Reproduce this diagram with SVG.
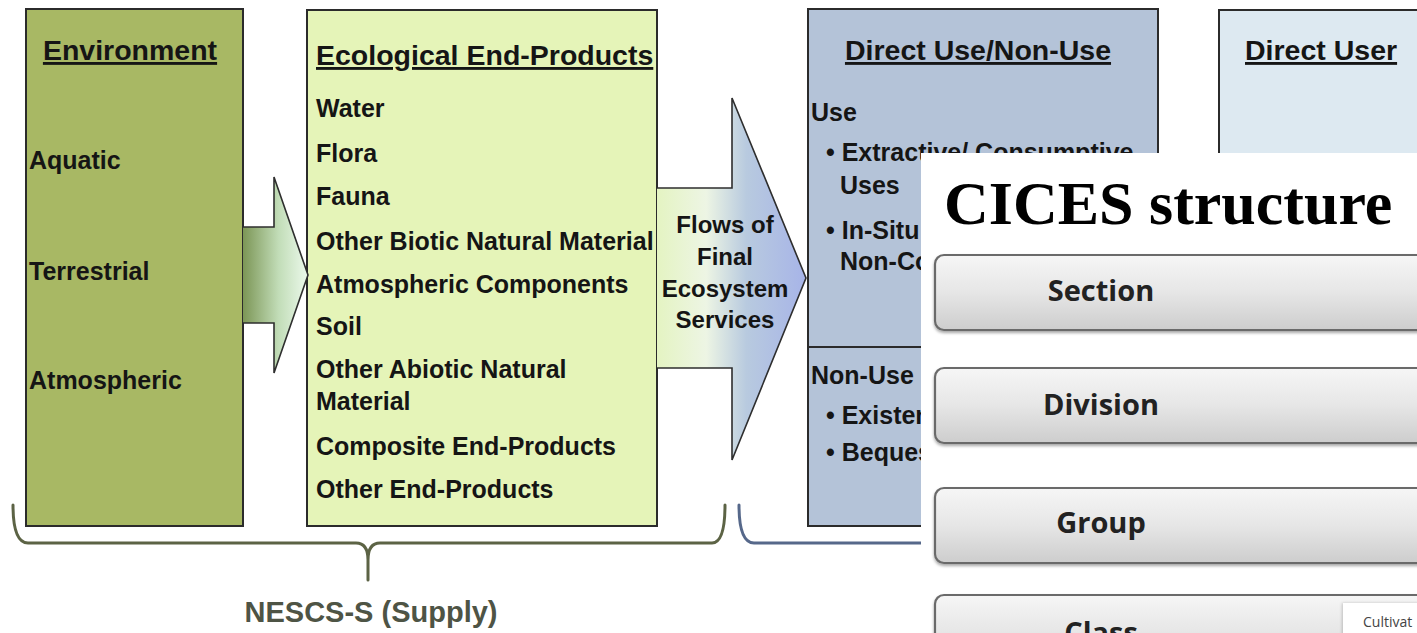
<svg xmlns="http://www.w3.org/2000/svg" width="1417" height="633" viewBox="0 0 1417 633">
  <style>
    .box { stroke: #2b2b2b; stroke-width: 2; }
    .t { font-family: "Liberation Sans", Arial, sans-serif; font-weight: bold; fill: #151515; }
    .title { font-size: 28.5px; text-decoration: underline; }
    .item { font-size: 25px; }
    .flow { font-size: 24px; text-anchor: middle; }
    .brace { fill: none; stroke-width: 3; stroke-linecap: round; stroke-linejoin: round; }
    .arrow { stroke: #2e2e2e; stroke-width: 1.6; stroke-linejoin: miter; }
    .btn { fill: url(#btnGrad); stroke: #6b6b6b; stroke-width: 2.2; }
    .btnText { font-family: "Open Sans", "Liberation Sans", sans-serif; font-weight: bold; font-size: 29px; fill: #222222; text-anchor: middle; }
  </style>
  <defs>
    <linearGradient id="arrowGreen" gradientUnits="userSpaceOnUse" x1="243" y1="0" x2="308" y2="0">
      <stop offset="0" stop-color="#7c9656"/>
      <stop offset="0.55" stop-color="#c2ddb8"/>
      <stop offset="1" stop-color="#ecf9ec"/>
    </linearGradient>
    <linearGradient id="arrowFlow" gradientUnits="userSpaceOnUse" x1="657" y1="0" x2="806" y2="0">
      <stop offset="0" stop-color="#e4f4c2"/>
      <stop offset="0.33" stop-color="#edf5e4"/>
      <stop offset="0.6" stop-color="#b8cadf"/>
      <stop offset="1" stop-color="#a7b4e8"/>
    </linearGradient>
    <linearGradient id="btnGrad" x1="0" y1="0" x2="0" y2="1">
      <stop offset="0" stop-color="#f6f6f6"/>
      <stop offset="0.5" stop-color="#e6e6e6"/>
      <stop offset="1" stop-color="#cdcdcd"/>
    </linearGradient>
    <filter id="btnShadow" x="-5%" y="-20%" width="110%" height="150%">
      <feDropShadow dx="0" dy="2" stdDeviation="1.5" flood-color="#000" flood-opacity="0.35"/>
    </filter>
    <filter id="softLeft" x="-20%" y="-20%" width="140%" height="140%">
      <feDropShadow dx="-1" dy="0" stdDeviation="1.5" flood-color="#000" flood-opacity="0.2"/>
    </filter>
  </defs>

  <rect x="0" y="0" width="1417" height="633" fill="#ffffff"/>

  <!-- Environment column -->
  <g id="environment">
    <rect class="box" x="26" y="9" width="217" height="517" fill="#a8b864"/>
    <text class="t title" x="130" y="60" text-anchor="middle">Environment</text>
    <text class="t item" x="29" y="169">Aquatic</text>
    <text class="t item" x="29" y="280">Terrestrial</text>
    <text class="t item" x="29" y="389">Atmospheric</text>
  </g>

  <!-- Ecological end-products column -->
  <g id="end-products">
    <rect class="box" x="307" y="10" width="350" height="516" fill="#e5f4b8"/>
    <text class="t title" x="316" y="65">Ecological End-Products</text>
    <text class="t item" x="316" y="117">Water</text>
    <text class="t item" x="316" y="162">Flora</text>
    <text class="t item" x="316" y="205">Fauna</text>
    <text class="t item" x="316" y="250">Other Biotic Natural Material</text>
    <text class="t item" x="316" y="293">Atmospheric Components</text>
    <text class="t item" x="316" y="335">Soil</text>
    <text class="t item" x="316" y="378">Other Abiotic Natural</text>
    <text class="t item" x="316" y="410">Material</text>
    <text class="t item" x="316" y="455">Composite End-Products</text>
    <text class="t item" x="316" y="498">Other End-Products</text>
  </g>

  <!-- Direct use / non-use column -->
  <g id="direct-use">
    <rect class="box" x="808" y="9" width="350" height="517" fill="#b4c3d8"/>
    <line x1="808" y1="347" x2="1158" y2="347" stroke="#2b2b2b" stroke-width="2"/>
    <text class="t title" x="978" y="60" text-anchor="middle">Direct Use/Non-Use</text>
    <text class="t item" x="811" y="121">Use</text>
    <text class="t item" x="826" y="161">• Extractive/ Consumptive</text>
    <text class="t item" x="840" y="194">Uses</text>
    <text class="t item" x="826" y="239">• In-Situ</text>
    <text class="t item" x="840" y="270">Non-Consumptive</text>
    <text class="t item" x="811" y="384">Non-Use</text>
    <text class="t item" x="826" y="424">• Existence</text>
    <text class="t item" x="826" y="461">• Bequest</text>
  </g>

  <!-- Direct user column -->
  <g id="direct-user">
    <rect class="box" x="1219" y="10" width="220" height="516" fill="#dde9f1"/>
    <text class="t title" x="1245" y="60">Direct User</text>
  </g>

  <!-- Flow arrows and supply bracket -->
  <g id="connectors">
    <path class="arrow" fill="url(#arrowGreen)" d="M243,227 L274,227 L274,177 L308,275 L274,373 L274,323 L243,323"/>
    <g id="flow-arrow">
      <path class="arrow" fill="url(#arrowFlow)" d="M657,188 L732,188 L732,98 L806,278 L732,460 L732,368 L657,368"/>
      <text class="t flow" x="725" y="233">Flows of</text>
      <text class="t flow" x="725" y="265">Final</text>
      <text class="t flow" x="725" y="297">Ecosystem</text>
      <text class="t flow" x="725" y="328">Services</text>
    </g>
    <path class="brace" stroke="#5c6345" d="M13,505 Q13,543 28,543 L356,543 Q368,543 368,560 L368,580 M368,560 Q368,543 380,543 L712,543 Q725,543 725,505"/>
    <path class="brace" stroke="#56688a" d="M739,505 Q739,543 754,543 L940,543"/>
  </g>

  <g id="supply-label">
    <text x="371" y="622" text-anchor="middle" font-family="Liberation Sans, Arial, sans-serif" font-weight="bold" font-size="29" fill="#4e5445">NESCS-S (Supply)</text>
  </g>

  <!-- CICES structure panel -->
  <g id="cices-panel">
    <rect x="921" y="153" width="496" height="480" fill="#ffffff"/>
    <text x="944" y="224" font-family="Liberation Serif, 'Times New Roman', serif" font-weight="bold" font-size="62" fill="#000000">CICES structure</text>
  </g>

  <g id="section">
    <rect class="btn" filter="url(#btnShadow)" x="935" y="255" width="500" height="75" rx="9"/>
    <text class="btnText" x="1101" y="301">Section</text>
  </g>
  <g id="division">
    <rect class="btn" filter="url(#btnShadow)" x="935" y="368" width="500" height="75" rx="9"/>
    <text class="btnText" x="1101" y="415">Division</text>
  </g>
  <g id="group">
    <rect class="btn" filter="url(#btnShadow)" x="935" y="488" width="500" height="75" rx="9"/>
    <text class="btnText" x="1101" y="533">Group</text>
  </g>
  <g id="class">
    <rect class="btn" filter="url(#btnShadow)" x="935" y="595" width="500" height="75" rx="9"/>
    <text class="btnText" x="1101" y="643">Class</text>
    <rect x="1343" y="603" width="90" height="45" fill="#ffffff" filter="url(#softLeft)"/>
    <text x="1363" y="627" font-family="'Open Sans', 'Liberation Sans', sans-serif" font-size="14" fill="#444444">Cultivat</text>
  </g>
</svg>
